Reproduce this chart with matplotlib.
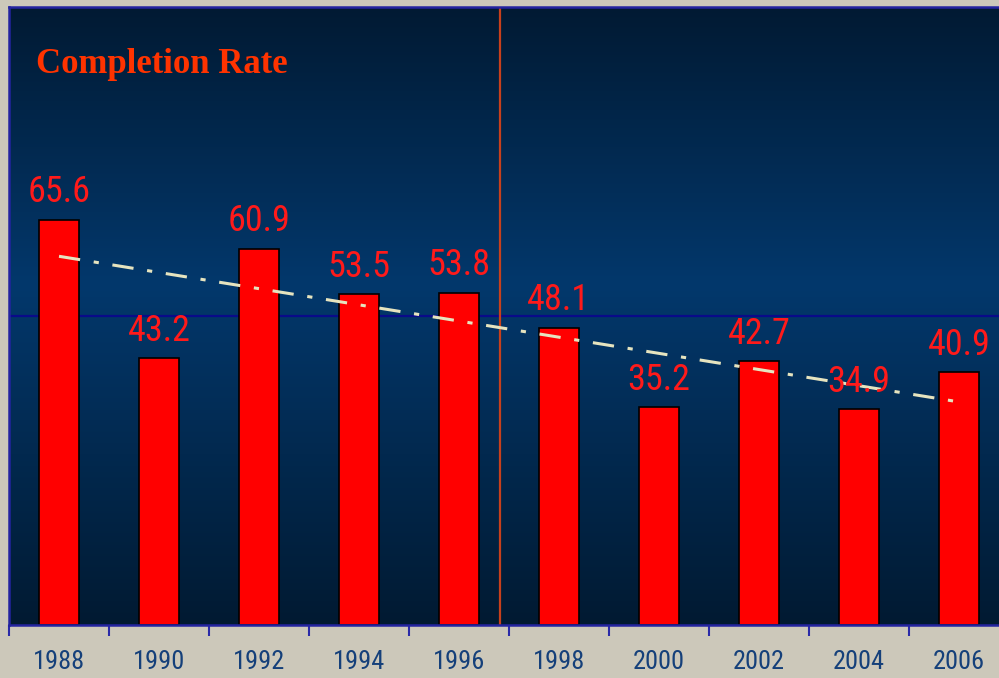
# completion rate bar chart with linear trend line
import matplotlib.pyplot as plt
import numpy as np
from matplotlib.colors import LinearSegmentedColormap

years = ['1988', '1990', '1992', '1994', '1996', '1998', '2000', '2002', '2004', '2006']
rates = [65.6, 43.2, 60.9, 53.5, 53.8, 48.1, 35.2, 42.7, 34.9, 40.9]
title = 'Completion Rate'
ref_level = 50
split_pos = 4.41

narrow = ['Roboto Condensed', 'DejaVu Sans']

fig = plt.figure(figsize=(9.99, 6.78), dpi=100, facecolor='#ccc8ba')
ax = fig.add_axes([9 / 999, 53 / 678, 1000 / 999, 618 / 678])

x = np.arange(len(years))
ax.set_xlim(-0.5, 9.5)
ax.set_ylim(0, 100)

# blue gradient background, brightest a bit above the middle
grad = LinearSegmentedColormap.from_list(
    'bg', [(0.0, '#011a32'), (0.55, '#03386c'), (1.0, '#011a33')])
ramp = np.linspace(0, 1, 256).reshape(-1, 1)
ax.imshow(ramp, cmap=grad, aspect='auto', origin='lower',
          extent=(-0.5, 9.5, 0, 100), zorder=0)

ax.axhline(ref_level, color='#0a0a8a', lw=1.6, zorder=1)
ax.axvline(split_pos, color='#c8401c', lw=1.6, zorder=1)

ax.bar(x, rates, width=0.4, color='#ff0000', edgecolor='black', lw=1.2, zorder=2)

for xi, v in zip(x, rates):
    ax.annotate(f'{v}', (xi, v), xytext=(0, 12.5), textcoords='offset points',
                ha='center', va='baseline', color='#ff1a1a', fontsize=26,
                family=narrow, zorder=4)

# linear trend
k, b = np.polyfit(x, rates, 1)
ax.plot(x, k * x + b, color='#e6e4bf', lw=2.2, dashes=(7, 4.5, 1.7, 4.5),
        solid_capstyle='butt', dash_capstyle='butt', zorder=3)

ax.text(0.027, 0.893, title, transform=ax.transAxes, color='#ff3300',
        fontsize=25, fontweight='bold', family='Liberation Serif', zorder=5)

ax.set_xticks(x - 0.5)
ax.set_xticklabels([])
ax.set_xticks(x, minor=True)
ax.set_xticklabels(years, minor=True, family=narrow, fontsize=19, color='#15407a')
ax.tick_params(axis='x', which='major', length=8, width=1.5, color='#2a2aa8', direction='out')
ax.tick_params(axis='x', which='minor', length=0, pad=18)
ax.set_yticks([])

for s in ['left', 'bottom', 'top']:
    ax.spines[s].set_color('#2424a0')
    ax.spines[s].set_linewidth(1.8)
ax.spines['right'].set_visible(False)

fig.savefig('out.png', dpi=100, facecolor=fig.get_facecolor())
